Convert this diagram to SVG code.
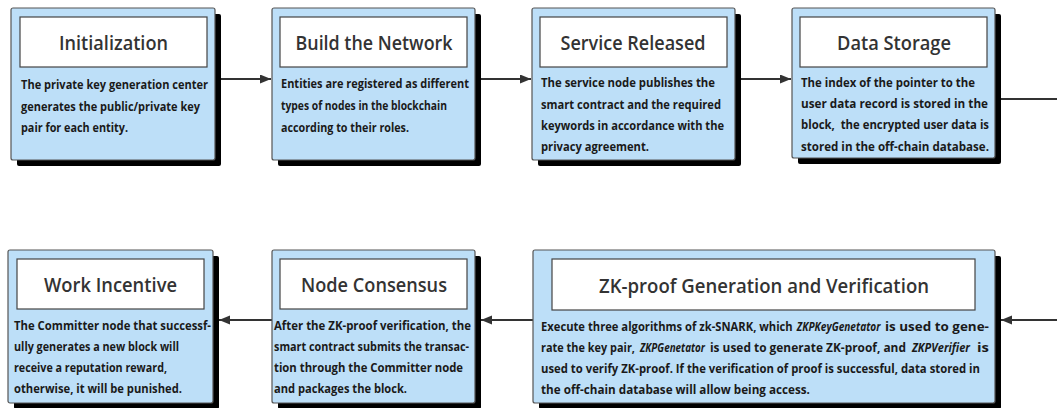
<svg xmlns="http://www.w3.org/2000/svg" width="1057" height="408" viewBox="0 0 1057 408">
<style>
.shadow{fill:#000}
.box{fill:#BDDFF8;stroke:#555;stroke-width:1.2}
.tbox{fill:#fff;stroke:#444;stroke-width:1.2}
.title{font-family:"Open Sans","Liberation Sans",sans-serif;font-weight:600;font-size:19px;fill:#333;text-anchor:middle}
.body{font-family:"Open Sans","Liberation Sans",sans-serif;font-weight:700;font-size:12px;fill:#1a1a1a}
.it{font-style:italic}
.conn{stroke:#333;stroke-width:2;fill:none}
</style>
<defs>
<marker id="arr" markerUnits="userSpaceOnUse" markerWidth="12" markerHeight="10" refX="11" refY="4.5" orient="auto">
<path d="M0,0 L11,4.5 L0,9 z" fill="#333"/>
</marker>
</defs>
<rect width="1057" height="408" fill="#fff"/>
<g id="connectors">
<line class="conn" x1="221" y1="79" x2="271" y2="79" marker-end="url(#arr)"/>
<line class="conn" x1="481" y1="79" x2="531" y2="79" marker-end="url(#arr)"/>
<line class="conn" x1="741" y1="79" x2="791" y2="79" marker-end="url(#arr)"/>
<line class="conn" x1="1001" y1="99" x2="1057" y2="99"/>
<line class="conn" x1="1057" y1="320" x2="1001" y2="320" marker-end="url(#arr)"/>
<line class="conn" x1="533" y1="320" x2="481" y2="320" marker-end="url(#arr)"/>
<line class="conn" x1="272" y1="320" x2="219" y2="320" marker-end="url(#arr)"/>
</g>
<g id="initialization">
<rect class="shadow" x="17" y="14" width="204" height="152" rx="2"/>
<rect class="box" x="11" y="8" width="204" height="152" rx="2"/>
<rect class="tbox" x="20" y="17" width="187" height="50"/>
<text class="title" x="113.5" y="50" textLength="109" lengthAdjust="spacingAndGlyphs">Initialization</text>
<text class="body" x="21" y="89" textLength="187" lengthAdjust="spacingAndGlyphs">The private key generation center</text>
<text class="body" x="21" y="111" textLength="179" lengthAdjust="spacingAndGlyphs">generates the public/private key</text>
<text class="body" x="21" y="132" textLength="107" lengthAdjust="spacingAndGlyphs">pair for each entity.</text>
</g>
<g id="build-network">
<rect class="shadow" x="278" y="14" width="203" height="152" rx="2"/>
<rect class="box" x="272" y="8" width="203" height="152" rx="2"/>
<rect class="tbox" x="280" y="17" width="187" height="50"/>
<text class="title" x="374" y="50" textLength="157" lengthAdjust="spacingAndGlyphs">Build the Network</text>
<text class="body" x="281" y="88" textLength="188" lengthAdjust="spacingAndGlyphs">Entities are registered as different</text>
<text class="body" x="281" y="110" textLength="166" lengthAdjust="spacingAndGlyphs">types of nodes in the blockchain</text>
<text class="body" x="281" y="132" textLength="128" lengthAdjust="spacingAndGlyphs">according to their roles.</text>
</g>
<g id="service-released">
<rect class="shadow" x="538" y="14" width="203" height="152" rx="2"/>
<rect class="box" x="532" y="8" width="203" height="152" rx="2"/>
<rect class="tbox" x="540" y="17" width="187" height="50"/>
<text class="title" x="633" y="50" textLength="145" lengthAdjust="spacingAndGlyphs">Service Released</text>
<text class="body" x="541" y="87" textLength="174" lengthAdjust="spacingAndGlyphs">The service node publishes the</text>
<text class="body" x="541" y="109" textLength="180" lengthAdjust="spacingAndGlyphs">smart contract and the required</text>
<text class="body" x="541" y="130" textLength="183" lengthAdjust="spacingAndGlyphs">keywords in accordance with the</text>
<text class="body" x="541" y="151" textLength="108" lengthAdjust="spacingAndGlyphs">privacy agreement.</text>
</g>
<g id="data-storage">
<rect class="shadow" x="798" y="14" width="203" height="150" rx="2"/>
<rect class="box" x="792" y="8" width="203" height="150" rx="2"/>
<rect class="tbox" x="800" y="17" width="187" height="50"/>
<text class="title" x="894" y="50" textLength="114" lengthAdjust="spacingAndGlyphs">Data Storage</text>
<text class="body" x="801" y="87" textLength="174" lengthAdjust="spacingAndGlyphs">The index of the pointer to the</text>
<text class="body" x="801" y="108" textLength="187" lengthAdjust="spacingAndGlyphs">user data record is stored in the</text>
<text class="body" x="801" y="129" textLength="188" lengthAdjust="spacingAndGlyphs" xml:space="preserve">block,  the encrypted user data is</text>
<text class="body" x="801" y="151" textLength="188" lengthAdjust="spacingAndGlyphs">stored in the off-chain database.</text>
</g>
<g id="work-incentive">
<rect class="shadow" x="14" y="256" width="205" height="153" rx="2"/>
<rect class="box" x="8" y="250" width="205" height="153" rx="2"/>
<rect class="tbox" x="17" y="259" width="187" height="50"/>
<text class="title" x="110.5" y="292" textLength="133" lengthAdjust="spacingAndGlyphs">Work Incentive</text>
<text class="body" x="14" y="330" textLength="197" lengthAdjust="spacingAndGlyphs">The Committer node that successf-</text>
<text class="body" x="14" y="351" textLength="165" lengthAdjust="spacingAndGlyphs">ully generates a new block will</text>
<text class="body" x="14" y="372" textLength="153" lengthAdjust="spacingAndGlyphs">receive a reputation reward,</text>
<text class="body" x="14" y="393" textLength="168" lengthAdjust="spacingAndGlyphs">otherwise, it will be punished.</text>
</g>
<g id="node-consensus">
<rect class="shadow" x="278" y="256" width="203" height="153" rx="2"/>
<rect class="box" x="272" y="250" width="203" height="153" rx="2"/>
<rect class="tbox" x="280" y="259" width="187" height="50"/>
<text class="title" x="374" y="292" textLength="146" lengthAdjust="spacingAndGlyphs">Node Consensus</text>
<text class="body" x="274" y="330" textLength="197" lengthAdjust="spacingAndGlyphs">After the ZK-proof verification, the</text>
<text class="body" x="274" y="351" textLength="195" lengthAdjust="spacingAndGlyphs">smart contract submits the transac-</text>
<text class="body" x="274" y="372" textLength="189" lengthAdjust="spacingAndGlyphs">tion through the Committer node</text>
<text class="body" x="274" y="393" textLength="133" lengthAdjust="spacingAndGlyphs">and packages the block.</text>
</g>
<g id="zk-proof">
<rect class="shadow" x="539" y="256" width="462" height="153" rx="2"/>
<rect class="box" x="533" y="250" width="462" height="153" rx="2"/>
<rect class="tbox" x="552" y="259" width="423" height="51"/>
<text class="title" x="764" y="293" textLength="330" lengthAdjust="spacingAndGlyphs">ZK-proof Generation and Verification</text>
<g transform="translate(541 0) scale(0.82 1)">
<text class="body" x="0" y="331" textLength="307" lengthAdjust="spacingAndGlyphs">Execute three algorithms of zk-SNARK, which</text>
<text class="body it" x="312" y="331" textLength="102" lengthAdjust="spacingAndGlyphs">ZKPKeyGenetator</text>
<text class="body" x="419.5" y="331" textLength="126.8" lengthAdjust="spacingAndGlyphs">is used to gene-</text>
<text class="body" x="0" y="352" textLength="114.6" lengthAdjust="spacingAndGlyphs">rate the key pair,</text>
<text class="body it" x="120.7" y="352" textLength="79.3" lengthAdjust="spacingAndGlyphs">ZKPGenetator</text>
<text class="body" x="206.1" y="352" textLength="239" lengthAdjust="spacingAndGlyphs">is used to generate ZK-proof, and</text>
<text class="body it" x="452.4" y="352" textLength="70.7" lengthAdjust="spacingAndGlyphs">ZKPVerifier</text>
<text class="body" x="531.7" y="352" textLength="14.6" lengthAdjust="spacingAndGlyphs">is</text>
<text class="body" x="0" y="373" textLength="535.4" lengthAdjust="spacingAndGlyphs">used to verify ZK-proof. If the verification of proof is successful, data stored in</text>
<text class="body" x="0" y="394" textLength="328" lengthAdjust="spacingAndGlyphs">the off-chain database will allow being access.</text>
</g>
</g>
</svg>
